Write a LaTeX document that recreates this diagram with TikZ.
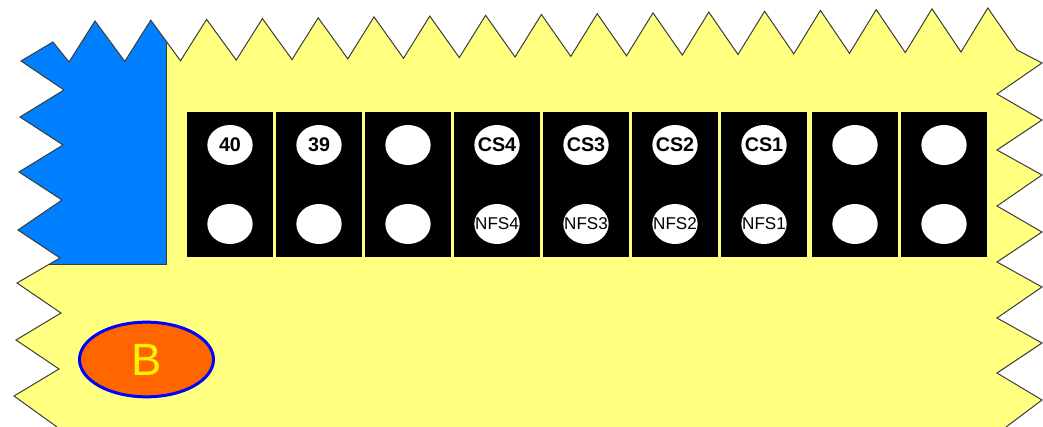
\documentclass[tikz,border=0pt]{standalone}
\usepackage{fontspec}
\setmainfont{Liberation Sans}
\definecolor{boardyellow}{RGB}{255, 255, 128}
\definecolor{cornerblue}{RGB}{0, 128, 255}
\definecolor{badgeorange}{RGB}{255, 102, 0}
\definecolor{badgeblue}{RGB}{0, 0, 255}
\definecolor{edgegray}{RGB}{60, 60, 60}
\usetikzlibrary{shapes.geometric, positioning}
\tikzset{
  pinblock/.style={rectangle, fill=black, minimum width=64.5pt, minimum height=108.75pt, inner sep=0pt, outer sep=0pt},
  hole/.style={ellipse, fill=white, minimum width=34pt, minimum height=30pt, inner sep=0pt, outer sep=0pt},
  cslabel/.style={font=\bfseries\fontsize{14.8}{14.8}\selectfont},
  nfslabel/.style={font=\fontsize{12.8}{12.8}\selectfont}
}
\newcommand{\boardedge}{(57,427) -- (14,396) -- (59,369) -- (16,340) -- (61,313) -- (17,283) -- (60,258) -- (18,230) -- (62,200) -- (19,172) -- (63,145) -- (20,117) -- (64,90) -- (21,61) -- (53,42) -- (69,62) -- (95,21) -- (124.8,61.4) -- (150.8,20.2) -- (180.5,60.8) -- (206.6,19.4) -- (236.3,60.1) -- (262.4,18.6) -- (292,59.5) -- (318.2,17.8) -- (347.8,58.9) -- (374,16.9) -- (403.5,58.3) -- (429.8,16.1) -- (459.3,57.6) -- (485.6,15.3) -- (515,57) -- (541.4,14.5) -- (570.8,56.4) -- (597.2,13.7) -- (626.5,55.8) -- (653,12.9) -- (682.3,55.1) -- (708.8,12.1) -- (738,54.5) -- (764.6,11.3) -- (793.8,53.9) -- (820.4,10.4) -- (849.5,53.3) -- (876.2,9.6) -- (905.3,52.6) -- (932,8.8) -- (961,52) -- (987.8,8) -- (1017,50) -- (1042,63) -- (997,94) -- (1042,120) -- (997,150) -- (1042,175) -- (997,206) -- (1042,232) -- (997,262) -- (1042,287) -- (997,318) -- (1042,343) -- (997,373) -- (1042,400) -- (1006,427)}

\begin{document}
\begin{tikzpicture}[x=0.75pt, y=-0.75pt]
      \useasboundingbox (0,0) rectangle (1043,427);

      % board with the blue corner
      \fill[boardyellow] \boardedge -- cycle;
      \begin{scope}
        \clip \boardedge -- cycle;
        \fill[cornerblue] (0,0) rectangle (166,265);
        \draw[edgegray, line width=0.75pt] (166,0) -- (166,265) -- (0,265);
      \end{scope}
      \draw[edgegray, line width=0.75pt, line join=miter] \boardedge;

      % connector blocks
      \node (b1) [pinblock] at (230,184.5) {};
      \node (b2) [pinblock, right=2.25pt of b1] {};
      \node (b3) [pinblock, right=2.25pt of b2] {};
      \node (b4) [pinblock, right=2.25pt of b3] {};
      \node (b5) [pinblock, right=2.25pt of b4] {};
      \node (b6) [pinblock, right=2.25pt of b5] {};
      \node (b7) [pinblock, right=2.25pt of b6] {};
      \node (b8) [pinblock, right=3.75pt of b7] {};
      \node (b9) [pinblock, right=2.25pt of b8] {};

      % holes, top row
      \node (h1t) [hole, below=9.75pt of b1.north, label={[cslabel]center:40}] {};
      \node (h2t) [hole, below=9.75pt of b2.north, label={[cslabel]center:39}] {};
      \node (h3t) [hole, below=9.75pt of b3.north] {};
      \node (h4t) [hole, below=9.75pt of b4.north, label={[cslabel]center:CS4}] {};
      \node (h5t) [hole, below=9.75pt of b5.north, label={[cslabel]center:CS3}] {};
      \node (h6t) [hole, below=9.75pt of b6.north, label={[cslabel]center:CS2}] {};
      \node (h7t) [hole, below=9.75pt of b7.north, label={[cslabel]center:CS1}] {};
      \node (h8t) [hole, below=9.75pt of b8.north] {};
      \node (h9t) [hole, below=9.75pt of b9.north] {};

      % holes, bottom row
      \node (h1b) [hole, above=9.75pt of b1.south] {};
      \node (h2b) [hole, above=9.75pt of b2.south] {};
      \node (h3b) [hole, above=9.75pt of b3.south] {};
      \node (h4b) [hole, above=9.75pt of b4.south, label={[nfslabel]center:NFS4}] {};
      \node (h5b) [hole, above=9.75pt of b5.south, label={[nfslabel]center:NFS3}] {};
      \node (h6b) [hole, above=9.75pt of b6.south, label={[nfslabel]center:NFS2}] {};
      \node (h7b) [hole, above=9.75pt of b7.south, label={[nfslabel]center:NFS1}] {};
      \node (h8b) [hole, above=9.75pt of b8.south] {};
      \node (h9b) [hole, above=9.75pt of b9.south] {};

      \node (badge) [ellipse, draw=badgeblue, line width=2.25pt, fill=badgeorange, text=yellow, minimum width=100.5pt, minimum height=56pt, inner sep=0pt, font=\fontsize{34}{34}\selectfont] at (146.5,359.5) {B};
    \end{tikzpicture}
\end{document}
